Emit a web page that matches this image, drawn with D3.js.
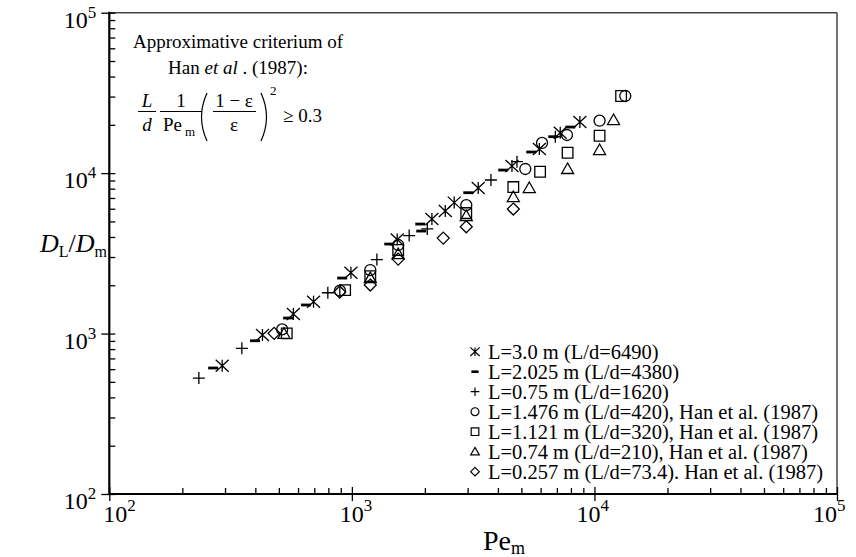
<!DOCTYPE html>
<html>
<head>
<meta charset="utf-8">
<script src="https://cdn.jsdelivr.net/npm/d3@7"></script>
<style>
  body { margin: 0; background: #fff; }
  svg { font-family: "Liberation Serif", "Times New Roman", serif; }
</style>
</head>
<body>
<svg id="chart" width="856" height="557"></svg>
<script>
// values (Pe_m, D_L/D_m)
const peAst = [292, 428, 574, 695, 991, 1538, 2138, 2427, 2642, 3319, 4571, 5929, 7228, 8710];
const dAst = [631, 979, 1324, 1578, 2393, 3855, 5174, 5803, 6550, 8073, 11070, 14140, 17860, 20820];

const peDash = [268, 399, 546, 647, 912, 1426, 1914, 1932, 3020, 4207, 5490, 6767, 7955];
const dDash = [610, 902, 1250, 1507, 2218, 3614, 4815, 4355, 7551, 10450, 13540, 16870, 19370];

const pePlus = [234, 352, 796, 1268, 1723, 2046, 3744, 4793, 6900];
const dPlus = [528, 809, 1796, 2892, 4083, 4487, 9059, 11780, 16870];

const peCirc = [516, 893, 1191, 1552, 2963, 5188, 6081, 7705, 10500, 13400];
const dCirc = [1062, 1850, 2489, 3565, 6322, 10610, 15420, 17280, 21220, 30250];

const peSq = [539, 938, 1191, 1552, 2962, 4630, 5970, 7752, 10500, 12880];
const dSq = [1003, 1866, 2282, 3318, 5640, 8187, 10200, 13400, 17100, 30250];

const peTri = [525, 1191, 1552, 2962, 4630, 5387, 7752, 10500, 11990];
const dTri = [997, 2218, 3131, 5405, 7096, 8073, 10610, 13930, 21430];

const peDiam = [478, 891, 1191, 1552, 2381, 2962, 4630];
const dDiam = [1003, 1815, 2006, 2911, 3936, 4634, 5970];

const seriesLabels = [
  "L=3.0 m (L/d=6490)",
  "L=2.025 m (L/d=4380)",
  "L=0.75 m (L/d=1620)",
  "L=1.476 m (L/d=420), Han et al. (1987)",
  "L=1.121 m (L/d=320), Han et al. (1987)",
  "L=0.74 m (L/d=210), Han et al. (1987)",
  "L=0.257 m (L/d=73.4). Han et al. (1987)"
];
const majorTicks = [1e2, 1e3, 1e4, 1e5];
const tickExp = ["2", "3", "4", "5"];

const series = [
  { kind: "ast", pe: peAst, d: dAst },
  { kind: "dash", pe: peDash, d: dDash },
  { kind: "plus", pe: pePlus, d: dPlus },
  { kind: "circle", pe: peCirc, d: dCirc },
  { kind: "square", pe: peSq, d: dSq },
  { kind: "tri", pe: peTri, d: dTri },
  { kind: "diamond", pe: peDiam, d: dDiam }
];

const plotLeft = 109.3, plotRight = 837, plotTop = 12.7, plotBottom = 494;

const svg = d3.select("#chart");

const x = d3.scaleLog().domain([1e2, 1e5]).range([plotLeft, plotRight]);
const y = d3.scaleLog().domain([1e2, 1e5]).range([plotBottom, plotTop]);

let minorTicks = [];
for (let k = 2; k < 5; k++) {
  for (let m = 2; m < 10; m++) minorTicks.push(m * Math.pow(10, k));
}

// frame on top and right
svg.append("line")
  .attr("x1", plotLeft).attr("x2", plotRight).attr("y1", plotTop).attr("y2", plotTop)
  .attr("stroke", "#444").attr("stroke-width", 1.5);
svg.append("line")
  .attr("x1", plotRight).attr("x2", plotRight).attr("y1", plotTop).attr("y2", plotBottom)
  .attr("stroke", "#444").attr("stroke-width", 1.5);

// x axis
svg.append("g")
  .attr("transform", "translate(0," + plotBottom + ")")
  .call(d3.axisBottom(x).tickValues(minorTicks).tickSize(-6).tickSizeOuter(0).tickFormat(""))
  .call(g => g.select(".domain").remove());
const xMaj = svg.append("g")
  .attr("transform", "translate(0," + plotBottom + ")")
  .call(d3.axisBottom(x).tickValues(majorTicks).tickSize(7).tickSizeOuter(0).tickFormat(""));
xMaj.selectAll(".tick line").attr("y1", -7);
xMaj.select(".domain").remove();

// y axis
svg.append("g")
  .attr("transform", "translate(" + plotLeft + ",0)")
  .call(d3.axisLeft(y).tickValues(minorTicks).tickSize(-6).tickSizeOuter(0).tickFormat(""))
  .call(g => g.select(".domain").remove());
const yMaj = svg.append("g")
  .attr("transform", "translate(" + plotLeft + ",0)")
  .call(d3.axisLeft(y).tickValues(majorTicks).tickSize(8).tickSizeOuter(0).tickFormat(""));
yMaj.selectAll(".tick line").attr("x1", 6);
yMaj.select(".domain").remove();

svg.selectAll(".tick line").attr("stroke", "#000").attr("stroke-width", 1.3);

svg.append("line")
  .attr("x1", plotLeft).attr("x2", plotRight).attr("y1", plotBottom).attr("y2", plotBottom)
  .attr("stroke", "#000").attr("stroke-width", 2.2);
svg.append("line")
  .attr("x1", plotLeft).attr("x2", plotLeft).attr("y1", plotTop - 1).attr("y2", plotBottom + 1)
  .attr("stroke", "#000").attr("stroke-width", 2.2);

// tick labels 10^n
majorTicks.forEach((v, i) => {
  const ty = svg.append("text")
    .attr("x", plotLeft - 13).attr("y", y(v) + 15)
    .attr("text-anchor", "end").attr("font-size", 24);
  ty.append("tspan").text("10");
  ty.append("tspan").attr("font-size", 17).attr("dy", -10).text(tickExp[i]);

  const tx = svg.append("text")
    .attr("x", x(v) - 6 - 6 * i).attr("y", plotBottom + 28)
    .attr("font-size", 24);
  tx.append("tspan").text("10");
  tx.append("tspan").attr("font-size", 17).attr("dy", -11).text(tickExp[i]);
});

// axis titles
const xt = svg.append("text").attr("x", 483).attr("y", 550).attr("font-size", 28);
xt.append("tspan").text("Pe");
xt.append("tspan").attr("font-size", 18).attr("dy", 4).text("m");

const yt = svg.append("text").attr("x", 40).attr("y", 252).attr("font-size", 26);
yt.append("tspan").attr("font-style", "italic").text("D");
yt.append("tspan").attr("font-size", 16).attr("dy", 5).text("L");
yt.append("tspan").attr("dy", -5).text("/");
yt.append("tspan").attr("font-style", "italic").text("D");
yt.append("tspan").attr("font-size", 16).attr("dy", 5).text("m");

// annotation with criterion
const note = svg.append("g").attr("font-size", 19);
note.append("text").attr("x", 238).attr("y", 48).attr("text-anchor", "middle")
  .text("Approximative criterium of");
const han = note.append("text").attr("x", 238).attr("y", 74).attr("text-anchor", "middle");
han.append("tspan").text("Han ");
han.append("tspan").attr("font-style", "italic").text("et al");
han.append("tspan").text(" . (1987):");

note.append("text").attr("x", 147).attr("y", 107).attr("text-anchor", "middle")
  .attr("font-style", "italic").text("L");
note.append("text").attr("x", 147).attr("y", 131).attr("text-anchor", "middle")
  .attr("font-style", "italic").text("d");
note.append("line").attr("x1", 138).attr("x2", 156).attr("y1", 111.5).attr("y2", 111.5)
  .attr("stroke", "#000").attr("stroke-width", 1);
note.append("text").attr("x", 181).attr("y", 107).attr("text-anchor", "middle").text("1");
note.append("line").attr("x1", 160).attr("x2", 202).attr("y1", 111.5).attr("y2", 111.5)
  .attr("stroke", "#000").attr("stroke-width", 1);
const pe = note.append("text").attr("x", 163).attr("y", 131);
pe.append("tspan").text("Pe");
pe.append("tspan").attr("font-size", 13).attr("dx", 3).attr("dy", 5).text("m");

note.append("path").attr("d", "M207,93 Q196,117 207,141").attr("fill", "none")
  .attr("stroke", "#000").attr("stroke-width", 1.2);
note.append("path").attr("d", "M261,93 Q272,117 261,141").attr("fill", "none")
  .attr("stroke", "#000").attr("stroke-width", 1.2);
note.append("text").attr("x", 234).attr("y", 107).attr("text-anchor", "middle").text("1 \u2212 \u03b5");
note.append("line").attr("x1", 213).attr("x2", 256).attr("y1", 111.5).attr("y2", 111.5)
  .attr("stroke", "#000").attr("stroke-width", 1);
note.append("text").attr("x", 234).attr("y", 131).attr("text-anchor", "middle").text("\u03b5");
note.append("text").attr("x", 270).attr("y", 95).attr("font-size", 13).text("2");
note.append("text").attr("x", 283).attr("y", 122).text("\u2265 0.3");

// marker shapes
function markerPath(kind, s) {
  switch (kind) {
    case "ast":
      return `M0,${-6 * s}L0,${6 * s}M${-6.5 * s},${-6 * s}L${6.5 * s},${6 * s}M${-6.5 * s},${6 * s}L${6.5 * s},${-6 * s}`;
    case "dash":
      return `M${-5 * s},0L${5 * s},0`;
    case "plus":
      return `M${-6 * s},0L${6 * s},0M0,${-6 * s}L0,${6 * s}`;
    case "circle":
      return `M${5.5 * s},0A${5.5 * s},${5.5 * s} 0 1,1 ${-5.5 * s},0A${5.5 * s},${5.5 * s} 0 1,1 ${5.5 * s},0Z`;
    case "square":
      return `M${-5.3 * s},${-5.3 * s}h${10.6 * s}v${10.6 * s}h${-10.6 * s}Z`;
    case "tri":
      return `M0,${-6 * s}L${6 * s},${4.5 * s}L${-6 * s},${4.5 * s}Z`;
    case "diamond":
      return `M0,${-6 * s}L${6 * s},0L0,${6 * s}L${-6 * s},0Z`;
  }
}

series.forEach(sr => {
  svg.append("g").selectAll("path")
    .data(sr.pe.map((p, i) => [p, sr.d[i]]))
    .join("path")
    .attr("transform", d => "translate(" + x(d[0]) + "," + y(d[1]) + ")")
    .attr("d", markerPath(sr.kind, 1))
    .attr("fill", "none")
    .attr("stroke", "#000")
    .attr("stroke-width", sr.kind === "dash" ? 2.8 : 1.3);
});

// legend
const legend = svg.append("g").attr("font-size", 20.5);
seriesLabels.forEach((lab, i) => {
  const cy = 351.7 + 20 * i;
  legend.append("path")
    .attr("transform", "translate(475," + cy + ")")
    .attr("d", markerPath(series[i].kind, 0.72))
    .attr("fill", "none").attr("stroke", "#000")
    .attr("stroke-width", series[i].kind === "dash" ? 2.6 : 1.2);
  legend.append("text").attr("x", 488).attr("y", cy + 7).text(lab);
});
</script>
</body>
</html>
